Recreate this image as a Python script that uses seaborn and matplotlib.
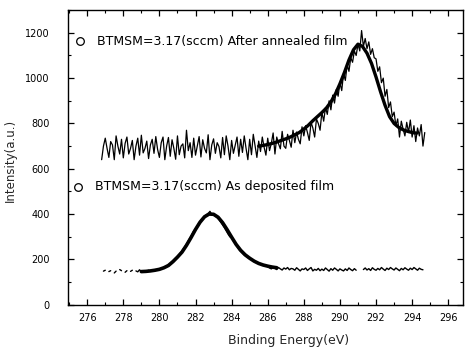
import numpy as np
import pandas as pd
import matplotlib
matplotlib.use("Agg")
import matplotlib.pyplot as plt
import seaborn as sns
from matplotlib.ticker import MultipleLocator

# ---------------------------
# Data
# ---------------------------
# after annealing: raw counts, 0.1 eV steps starting at 276.8 eV
annealed_start = 276.8
annealed_counts = [
    640, 700,
    735, 690, 650, 720, 705, 640, 745, 700, 665, 730,
    648, 712, 740, 665, 690, 725, 640, 700, 735, 660,
    748, 670, 690, 722, 645, 705, 730, 668, 742, 685,
    650, 715, 740, 640, 700, 738, 655, 728, 690, 642,
    745, 662, 700, 710, 648, 770, 680, 715, 650, 735,
    660, 700, 742, 652, 728, 690, 670, 750, 640, 705,
    732, 668, 715, 698, 648, 738, 662, 745, 700, 640,
    725, 668, 705, 740, 655, 730, 672, 745, 690, 640,
    730, 662, 752, 700, 650, 722, 676, 740, 695, 660,
    735, 680, 712, 758, 665, 740, 710, 688, 765, 700,
    690, 752, 725, 695, 770, 715, 762, 730, 710, 785,
    745, 790, 760, 725, 805, 780, 740, 820, 800, 770,
    850, 810, 870, 840, 900, 860, 925, 890, 950, 920,
    980, 945, 1020, 990, 1060, 1030, 1090, 1070, 1120, 1100,
    1150, 1120, 1210, 1140, 1175, 1130, 1160, 1105, 1130, 1090,
    1085, 1030, 1050, 980, 1000, 920, 950, 870, 895, 830,
    850, 790, 820, 740, 810, 775, 745, 805, 760, 815,
    740, 790, 720, 780, 745, 795, 700, 760,
]

# as deposited: raw counts, 0.1 eV steps starting at 276.9 eV (nan = no point)
nan = np.nan
deposited_start = 276.9
deposited_counts = [
    148,
    152, nan, 146, 150, nan, 140, 148, nan, 155, 150,
    nan, 143, 150, nan, 147, 152, nan, 149, 145, 154,
    146, 150, 144, 148, 152, 147, 151, 149, 155, 153,
    156, 158, 162, 166, 170, 176, 182, 190, 198, 206,
    212, 222, 232, 244, 255, 268, 282, 296, 310, 326,
    334, 348, 360, 372, 382, 390, 396, 402, 412, 398,
    398, 392, 384, 376, 364, 352, 340, 326, 312, 300,
    296, 282, 270, 258, 244, 236, 228, 220, 214, 208,
    204, 198, 194, 190, 185, 182, 178, 176, 174, 172,
    168, 162, 158, 166, 160, 155, 164, 158, 153, 162,
    157, 164, 154, 160, 158, 152, 163, 156, 149, 158,
    155, 162, 151, 158, 164, 149, 156, 152, 160, 150,
    157, 151, 162, 155, 148, 159, 152, 162, 156, 149,
    158, 153, 149, 158, 151, 162, 155, 150, 159, 152,
    nan, nan, nan, 155, 162, 153, 159, 151, 163, 156,
    152, 160, 154, 164, 157, 151, 161, 155, 164, 158,
    153, 162, 156, 150, 160, 154, 163, 157, 152, 161,
    155, 164, 158, 152, 161, 156, 154,
]

# fitted peaks, 0.25 eV steps
annealed_fit_start = 285.5
annealed_fit = [
    700, 703, 707, 712, 718, 725, 732, 740, 750, 760,
    775, 792, 812, 830, 848, 868, 895, 930, 975, 1025,
    1080, 1125, 1150, 1140, 1110, 1065, 1005, 940, 880, 830,
    800, 783, 772, 765, 760, 757,
]
deposited_fit_start = 279.0
deposited_fit = [
    146, 147, 149, 152, 156, 163, 173, 190, 210, 232,
    262, 296, 332, 364, 388, 400, 399, 386, 362, 331,
    298, 266, 240, 220, 205, 192, 182, 175, 170, 166,
    163,
]

label_annealed = "BTMSM=3.17(sccm) After annealed film"
label_deposited = "BTMSM=3.17(sccm) As deposited film"


def spectrum(start, step, counts):
    df = pd.DataFrame({"counts": counts})
    df["energy"] = np.round(start + step * np.arange(len(df)), 2)
    # split at missing points so the line shows gaps
    df["seg"] = df["counts"].isna().cumsum()
    return df.dropna()


annealed_df = spectrum(annealed_start, 0.1, annealed_counts)
deposited_df = spectrum(deposited_start, 0.1, deposited_counts)
annealed_fit_df = spectrum(annealed_fit_start, 0.25, annealed_fit)
deposited_fit_df = spectrum(deposited_fit_start, 0.25, deposited_fit)

# ---------------------------
# Plot
# ---------------------------
sns.set_theme(style="ticks")
plt.rcParams["font.family"] = ["DejaVu Sans"]

fig, ax = plt.subplots(figsize=(4.65, 3.51), dpi=100)
fig.subplots_adjust(left=0.146, right=0.995, bottom=0.132, top=0.971)

for df, lw in [(annealed_df, 0.9), (deposited_df, 1.0),
               (annealed_fit_df, 2.4), (deposited_fit_df, 2.6)]:
    sns.lineplot(data=df, x="energy", y="counts", units="seg", estimator=None,
                 color="black", lw=lw, ax=ax, legend=False)

ax.set_xlim(274.93, 296.8)
ax.set_ylim(0, 1300)
ax.xaxis.set_major_locator(MultipleLocator(2))
ax.xaxis.set_minor_locator(MultipleLocator(1))
ax.yaxis.set_major_locator(MultipleLocator(200))
ax.yaxis.set_minor_locator(MultipleLocator(100))
ax.tick_params(which="both", direction="in", top=True, right=True,
               colors="black", labelsize=7)
ax.tick_params(which="major", length=4, width=0.9)
ax.tick_params(which="minor", length=2, width=0.8)
ax.tick_params(axis="y", pad=13)
ax.tick_params(axis="x", pad=6)
for s in ax.spines.values():
    s.set_color("black")
    s.set_linewidth(1.0)

ax.set_xlabel("Binding Energy(eV)", fontsize=9)
ax.set_ylabel("Intensity(a.u.)", fontsize=8.5)
ax.xaxis.set_label_coords(0.56, -0.1)
ax.yaxis.set_label_coords(-0.128, 0.49)

# Origin style legend entries
for xc, xt, y, txt in [(0.031, 0.074, 0.894, label_annealed),
                       (0.026, 0.069, 0.40, label_deposited)]:
    ax.plot([xc], [y], marker="o", ms=5.5, mfc="white", mec="black", mew=0.9,
            transform=ax.transAxes, clip_on=False)
    ax.text(xt, y, txt, transform=ax.transAxes, fontsize=9, va="center",
            ha="left", color="black")

plt.savefig("out.png", dpi=100)
